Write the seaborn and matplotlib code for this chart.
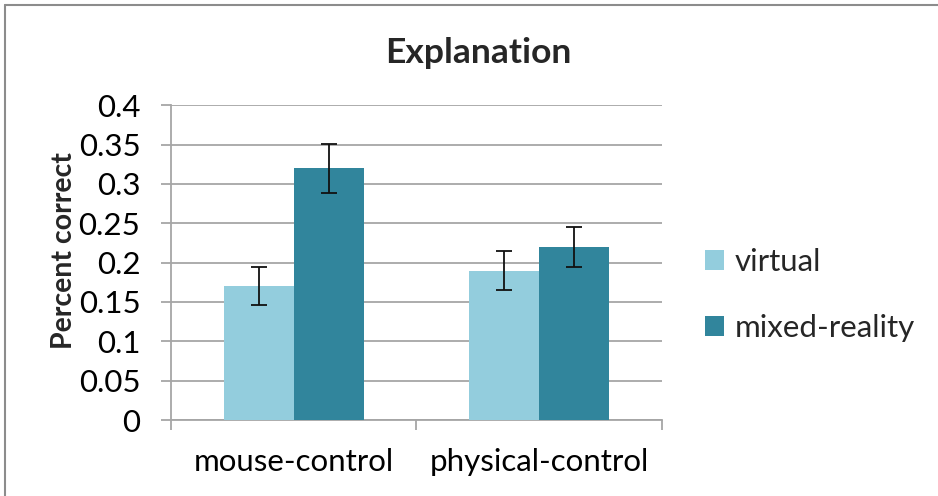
import matplotlib
matplotlib.use("Agg")
import matplotlib.pyplot as plt
from matplotlib.lines import Line2D
import seaborn as sns
import pandas as pd
import numpy as np

categories = ["mouse-control", "physical-control"]
series = ["virtual", "mixed-reality"]
virtual_vals = [0.17, 0.19]
mixed_vals = [0.32, 0.22]
virtual_err = [0.024, 0.025]
mixed_err = [0.031, 0.025]
y_ticks = [0, 0.05, 0.1, 0.15, 0.2, 0.25, 0.3, 0.35, 0.4]
y_tick_labels = ["0", "0.05", "0.1", "0.15", "0.2", "0.25", "0.3", "0.35", "0.4"]
colors = ["#93CDDD", "#31859C"]

sns.set_theme(style="white")
plt.rcParams["font.family"] = ["Lato", "DejaVu Sans"]

df = pd.DataFrame({
    "category": categories * 2,
    "series": [series[0]] * 2 + [series[1]] * 2,
    "value": virtual_vals + mixed_vals,
    "err": virtual_err + mixed_err,
})

W, H = 938, 496
fig = plt.figure(figsize=(W / 100, H / 100), dpi=100)
ax = fig.add_axes([171 / W, 1 - 420 / H, (661.7 - 171) / W, (420 - 105.3) / H])

sns.barplot(data=df, x="category", y="value", hue="series", order=categories,
            hue_order=series, palette=colors, errorbar=None, width=0.571,
            saturation=1, ax=ax, zorder=3, linewidth=0)

# error bars at bar centers (bars come in hue order, then category order)
bars = [p for p in ax.patches if p.get_width() > 0 and p.get_height() > 0]
errs = virtual_err + mixed_err
for p, e in zip(bars, errs):
    ax.errorbar(p.get_x() + p.get_width() / 2, p.get_height(), yerr=e,
                fmt="none", ecolor="#111111", elinewidth=1.3, capsize=6,
                capthick=1.3, zorder=5)

TICK_FS = 22.5
ax.set_ylim(0, 0.4)
ax.set_xlim(-0.5, 1.5)
ax.set_yticks(y_ticks)
ax.set_yticklabels(y_tick_labels)
ax.yaxis.grid(True, color="#A6A6A6", linewidth=1.3, zorder=0)
ax.set_axisbelow(True)
for sp in ["top", "right"]:
    ax.spines[sp].set_visible(False)
for sp in ["left", "bottom"]:
    ax.spines[sp].set_color("#A6A6A6")
    ax.spines[sp].set_linewidth(1.3)

ax.tick_params(axis="y", which="major", length=7, width=1.3, color="#A6A6A6",
               direction="out", pad=15, labelsize=TICK_FS, labelcolor="black", left=True)
ax.set_xticks([0, 1])
ax.set_xticklabels(categories)
ax.tick_params(axis="x", which="major", length=0, pad=20, labelsize=TICK_FS, labelcolor="black")
ax.set_xticks([-0.5, 0.5, 1.5], minor=True)
ax.tick_params(axis="x", which="minor", length=7, width=1.3, color="#A6A6A6",
               direction="out", bottom=True)

ax.set_xlabel("")
ax.set_ylabel("Percent correct", fontsize=20.5, fontweight="bold")
ax.yaxis.set_label_coords(-(171 - 77) / (661.7 - 171), (420 - 250.5) / (420 - 105.3))

fig.text(478 / W, 1 - 53 / H, "Explanation", fontsize=25.5, fontweight="bold",
         ha="center", va="center")

ax.legend_.remove()
handles = [plt.Rectangle((0, 0), 1, 1, facecolor=c, edgecolor="none") for c in colors]
fig.legend(handles, series, loc="center left",
           bbox_to_anchor=(705 / W, 1 - 295 / H), frameon=False,
           fontsize=TICK_FS, handlelength=0.62, handleheight=0.62,
           handletextpad=0.32, labelspacing=1.2, borderpad=0, borderaxespad=0)

# outer frame (top and left edges visible)
fig.add_artist(Line2D([5 / W, 1.0], [1 - 5 / H, 1 - 5 / H], color="#8C8C8C",
                      linewidth=1.5, transform=fig.transFigure))
fig.add_artist(Line2D([5 / W, 5 / W], [0, 1 - 5 / H], color="#8C8C8C",
                      linewidth=1.5, transform=fig.transFigure))

fig.savefig("out.png", dpi=100)
